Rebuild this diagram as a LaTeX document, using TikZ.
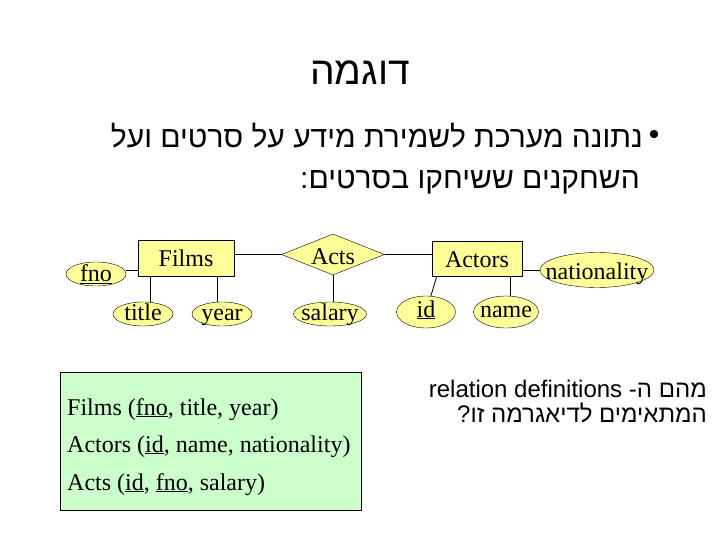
\documentclass[tikz,border=0pt]{standalone}
\usepackage{fontspec}
\setmainfont{Liberation Serif}
\newfontfamily\hebfont[Script=Hebrew]{Liberation Sans}
\newfontfamily\arialfont{Liberation Sans}
\TeXXeTstate=1
\usetikzlibrary{shapes.geometric,calc}
\definecolor{erfill}{RGB}{255,255,153}
\definecolor{relfill}{RGB}{204,255,204}
\begin{document}
\begin{tikzpicture}[x=1pt,y=-1pt,
  erfont/.style={font=\fontsize{24}{24}\selectfont},
  entity/.style={draw, fill=erfill, minimum width=96pt, minimum height=36pt, inner sep=0pt, erfont, text height=18pt, text depth=1pt},
  attr/.style 2 args={draw, ellipse, fill=erfill, inner sep=0pt, label={[erfont, inner sep=0pt, text height=#2, text depth=0pt]center:#1}},
  relship/.style 2 args={draw, diamond, fill=erfill, inner sep=0pt, shape aspect=2.5, minimum width=103pt, minimum height=41pt, label={[erfont, inner sep=0pt, text height=#2, text depth=0pt]center:#1}},
  hebtext/.style={inner sep=0pt, font=\hebfont\fontsize{30}{30}\selectfont},
  qtext/.style={inner sep=0pt, font=\hebfont\fontsize{24}{24}\selectfont},
  reltext/.style={inner sep=0pt, anchor=base west, erfont},
  conn/.style={draw, line width=0.8pt}
]
\useasboundingbox (0,0) rectangle (720,540);

% title and bullet text
\node[inner sep=0pt, anchor=base, font=\hebfont\fontsize{39}{39}\selectfont] (head) at (360,85) {\beginR דוגמה\endR};
\node[inner sep=0pt, anchor=base, font=\arialfont\fontsize{30}{30}\selectfont] (bul) at (654,145) {•};
\node[hebtext, anchor=base east] (l1) at (643,148) {\beginR נתונה מערכת לשמירת מידע על סרטים ועל\endR};
\node[hebtext, anchor=base east] (l2) at (640,189) {\beginR השחקנים ששיחקו בסרטים:\endR};

% ER diagram
\node[entity] (films) at (186,258) {Films};
\node[entity, minimum width=90pt, minimum height=35pt] (actors) at (477,258.5) {Actors};
\node[relship={Acts}{20pt}] (acts) at (333,254.5) {};
\node[attr={\underline{fno}}{15pt}, minimum width=60pt, minimum height=24pt] (fno) at (96,274) {};
\node[attr={title}{12pt}, minimum width=60pt, minimum height=24pt] (title) at (143,314) {};
\node[attr={year}{12pt}, minimum width=60pt, minimum height=24pt] (year) at (222,314) {};
\node[attr={salary}{12pt}, minimum width=73pt, minimum height=24pt] (salary) at (330,314) {};
\node[attr={\underline{id}}{10pt}, minimum width=59pt, minimum height=32pt] (id) at (426,312) {};
\node[attr={name}{10pt}, minimum width=65pt, minimum height=32pt] (name) at (506,312) {};
\node[attr={nationality}{18pt}, minimum width=114pt, minimum height=35pt] (nat) at (597,270) {};

\path[conn] ([yshift=4pt]fno.east) -- ([yshift=4pt]fno.east -| films.west);
\path[conn] ([xshift=-36pt]films.south) coordinate (ft) -- (ft |- title.north);
\path[conn] ([xshift=31pt]films.south) coordinate (fy) -- (fy |- year.north);
\path[conn] (acts.west) -- (acts.west -| films.east);
\path[conn] (acts.east) -- (acts.east -| actors.west);
\path[conn] (acts.south) -- (acts.south |- salary.north);
\path[conn] (nat.west) -- (nat.west -| actors.east);
\path[conn] ([xshift=5pt]actors.south west) -- (id);
\path[conn] ([xshift=-12pt]actors.south east) coordinate (an) -- (an |- name.north);

% relations box
\node[draw, fill=relfill, minimum width=301pt, minimum height=138pt, anchor=north west, inner sep=0pt] (rels) at (60,372) {};
\node[reltext] (r1) at (67,415) {Films (\underline{fno}, title, year)};
\node[reltext] (r2) at (67,452) {Actors (\underline{id}, name, nationality)};
\node[reltext] (r3) at (67,490) {Acts (\underline{id}, \underline{fno}, salary)};

% question
\node[qtext, anchor=base east] (q1) at (707,397) {\beginR מהם ה- \beginL relation definitions\endL\endR};
\node[qtext, anchor=base east] (q2) at (707,422) {\beginR המתאימים לדיאגרמה זו?\endR};
\end{tikzpicture}
\end{document}
